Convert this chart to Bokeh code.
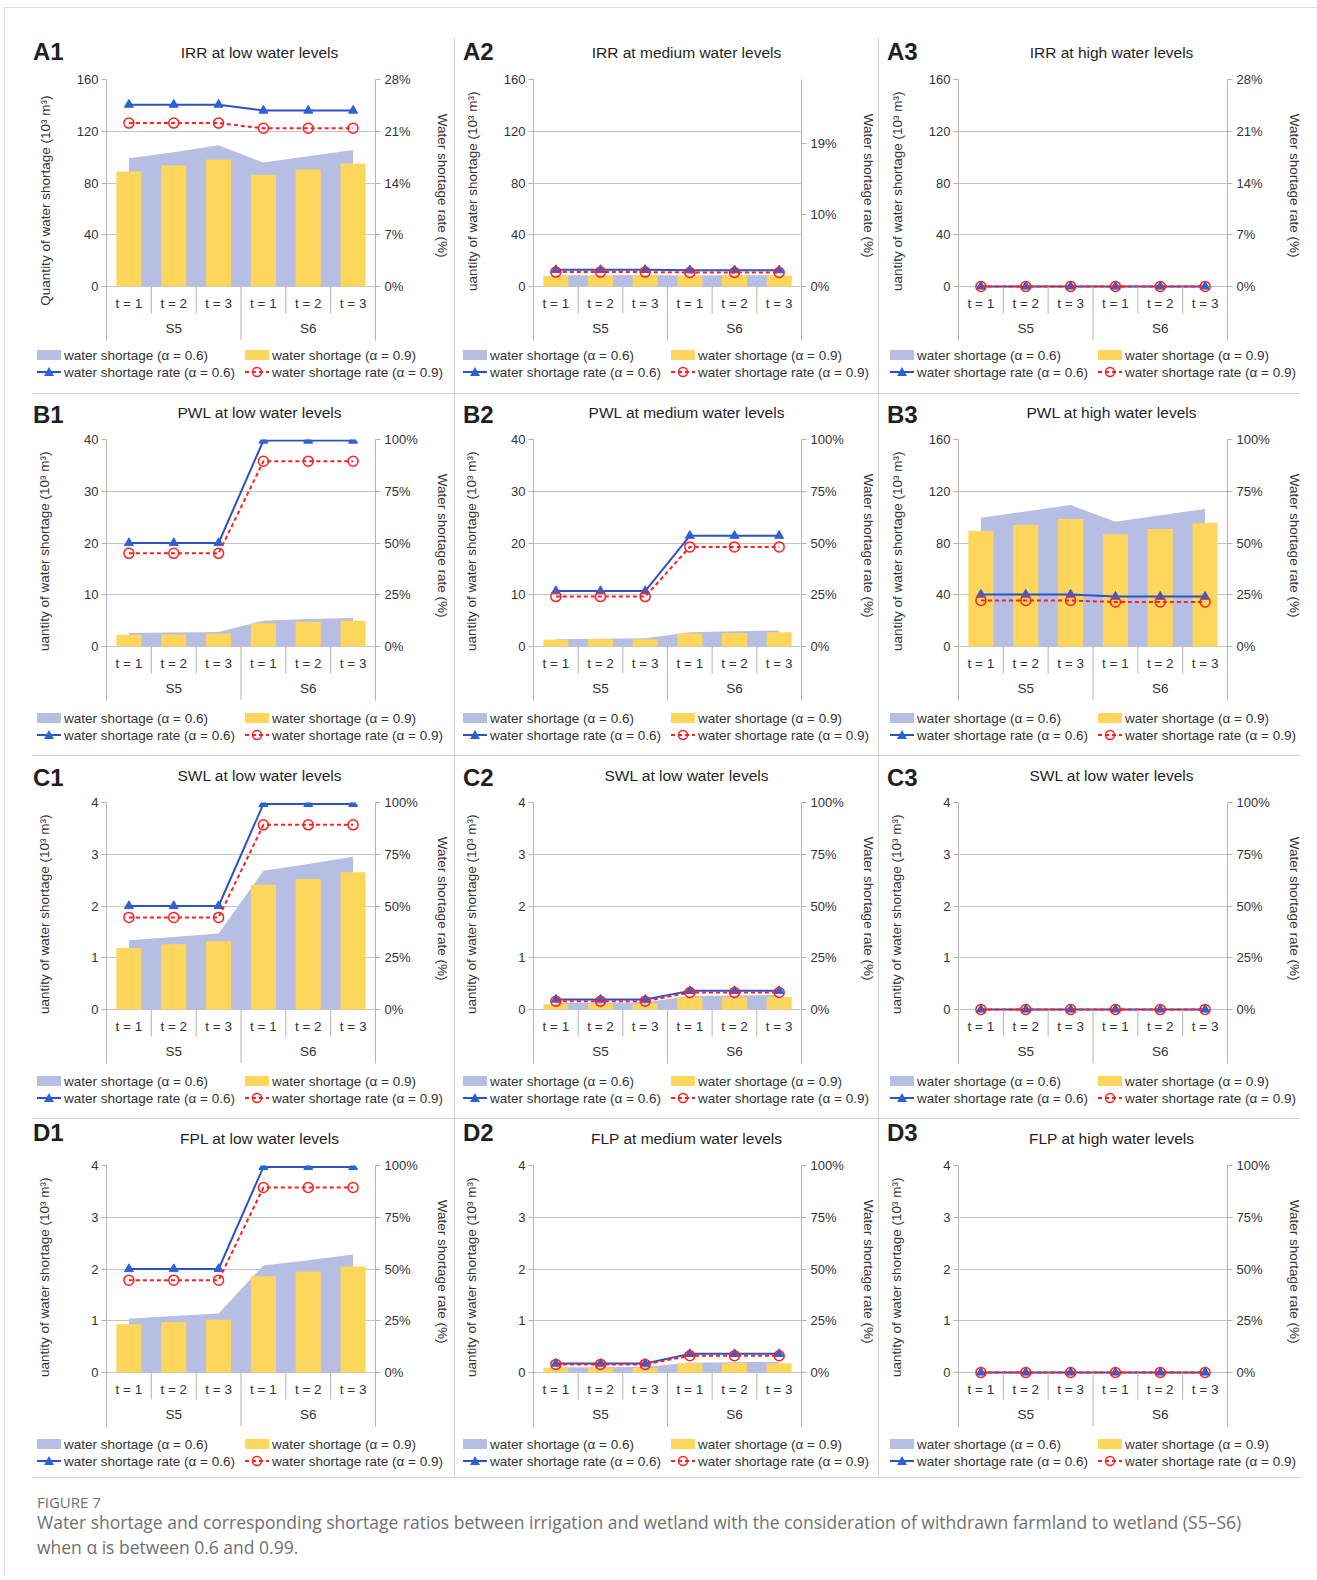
from bokeh.plotting import figure
from bokeh.models import (Range1d, LinearAxis, FixedTicker, PrintfTickFormatter,
                          ColumnDataSource, Div, Spacer)
from bokeh.layouts import row, column
from bokeh.embed import file_html
from bokeh.resources import INLINE
from bokeh.core.properties import value

# ---------------------------------------------------------------- data
groups = ["S5", "S6"]
periods = ["t = 1", "t = 2", "t = 3"]
categories = [(g, t) for g in groups for t in periods]

legend_labels = ["water shortage (α = 0.6)", "water shortage (α = 0.9)",
                 "water shortage rate (α = 0.6)", "water shortage rate (α = 0.9)"]

panel_ids = [["A1", "A2", "A3"], ["B1", "B2", "B3"], ["C1", "C2", "C3"], ["D1", "D2", "D3"]]
panel_titles = [["IRR at low water levels", "IRR at medium water levels", "IRR at high water levels"],
                ["PWL at low water levels", "PWL at medium water levels", "PWL at high water levels"],
                ["SWL at low water levels", "SWL at low water levels", "SWL at low water levels"],
                ["FPL at low water levels", "FLP at medium water levels", "FLP at high water levels"]]
left_title_full = "Quantity of water shortage (10³ m³)"
left_title_cut = "uantity of water shortage (10³ m³)"
right_title = "Water shortage rate (%)"

qty_ticks_160 = [0, 40, 80, 120, 160]
qty_ticks_40 = [0, 10, 20, 30, 40]
qty_ticks_4 = [0, 1, 2, 3, 4]
rate_ticks_28 = [0, 7, 14, 21, 28]
rate_ticks_28_odd = [0, 9.68, 19.36]
rate_ticks_100 = [0, 25, 50, 75, 100]
zeros = [0, 0, 0, 0, 0, 0]

A1_ws06 = [99.2, 103.8, 109.2, 95.8, 100.7, 105.6]
A1_ws09 = [88.9, 93.5, 98.1, 86.3, 90.4, 95.0]
A1_r06 = [24.6, 24.6, 24.6, 23.8, 23.8, 23.8]
A1_r09 = [22.1, 22.1, 22.1, 21.4, 21.4, 21.4]

A2_ws06 = [8.6, 8.7, 8.8, 8.5, 8.6, 8.7]
A2_ws09 = [8.2, 8.4, 8.5, 8.1, 8.3, 8.5]
A2_r06 = [2.25, 2.25, 2.25, 2.2, 2.2, 2.2]
A2_r09 = [1.95, 1.95, 1.95, 1.9, 1.9, 1.9]

B1_ws06 = [2.6, 2.7, 2.8, 5.0, 5.3, 5.5]
B1_ws09 = [2.25, 2.3, 2.5, 4.5, 4.8, 5.0]
B1_r06 = [50, 50, 50, 99.5, 99.5, 99.5]
B1_r09 = [45, 45, 45, 89.5, 89.5, 89.5]

B2_ws06 = [1.4, 1.5, 1.6, 2.75, 2.95, 3.1]
B2_ws09 = [1.3, 1.4, 1.4, 2.5, 2.6, 2.75]
B2_r06 = [26.8, 26.8, 26.8, 53.5, 53.5, 53.5]
B2_r09 = [24.1, 24.1, 24.1, 48.1, 48.1, 48.1]

B3_ws06 = [99.5, 104.4, 109.3, 96.5, 101.4, 106.2]
B3_ws09 = [89.3, 93.9, 98.5, 86.7, 90.8, 95.4]
B3_r06 = [25.1, 25.1, 25.1, 24.1, 24.1, 24.1]
B3_r09 = [22.2, 22.2, 22.2, 21.5, 21.5, 21.5]

C1_ws06 = [1.34, 1.40, 1.47, 2.68, 2.81, 2.95]
C1_ws09 = [1.19, 1.26, 1.32, 2.41, 2.52, 2.65]
C1_r06 = [50, 50, 50, 99.3, 99.3, 99.3]
C1_r09 = [44.5, 44.5, 44.5, 89.2, 89.2, 89.2]

C2_ws06 = [0.13, 0.13, 0.14, 0.26, 0.27, 0.28]
C2_ws09 = [0.10, 0.11, 0.11, 0.23, 0.23, 0.24]
C2_r06 = [4.8, 4.8, 4.8, 9.0, 9.0, 9.0]
C2_r09 = [4.0, 4.0, 4.0, 8.2, 8.2, 8.2]

D1_ws06 = [1.04, 1.09, 1.14, 2.07, 2.17, 2.28]
D1_ws09 = [0.93, 0.97, 1.02, 1.86, 1.95, 2.05]
D1_r06 = [50, 50, 50, 99.3, 99.3, 99.3]
D1_r09 = [44.6, 44.6, 44.6, 89.4, 89.4, 89.4]

D2_ws06 = [0.10, 0.10, 0.11, 0.19, 0.20, 0.21]
D2_ws09 = [0.09, 0.09, 0.09, 0.18, 0.18, 0.18]
D2_r06 = [4.3, 4.3, 4.3, 9.0, 9.0, 9.0]
D2_r09 = [3.9, 3.9, 3.9, 8.1, 8.1, 8.1]

caption_head = "FIGURE 7"
caption_line1 = ("Water shortage and corresponding shortage ratios between irrigation and wetland "
                 "with the consideration of withdrawn farmland to wetland (S5–S6)")
caption_line2 = "when α is between 0.6 and 0.99."

specs = [
    [dict(ws06=A1_ws06, ws09=A1_ws09, r06=A1_r06, r09=A1_r09, qt=qty_ticks_160, rt=rate_ticks_28, rmax=28),
     dict(ws06=A2_ws06, ws09=A2_ws09, r06=A2_r06, r09=A2_r09, qt=qty_ticks_160, rt=rate_ticks_28_odd, rmax=28),
     dict(ws06=zeros, ws09=zeros, r06=zeros, r09=zeros, qt=qty_ticks_160, rt=rate_ticks_28, rmax=28)],
    [dict(ws06=B1_ws06, ws09=B1_ws09, r06=B1_r06, r09=B1_r09, qt=qty_ticks_40, rt=rate_ticks_100, rmax=100),
     dict(ws06=B2_ws06, ws09=B2_ws09, r06=B2_r06, r09=B2_r09, qt=qty_ticks_40, rt=rate_ticks_100, rmax=100),
     dict(ws06=B3_ws06, ws09=B3_ws09, r06=B3_r06, r09=B3_r09, qt=qty_ticks_160, rt=rate_ticks_100, rmax=100)],
    [dict(ws06=C1_ws06, ws09=C1_ws09, r06=C1_r06, r09=C1_r09, qt=qty_ticks_4, rt=rate_ticks_100, rmax=100),
     dict(ws06=C2_ws06, ws09=C2_ws09, r06=C2_r06, r09=C2_r09, qt=qty_ticks_4, rt=rate_ticks_100, rmax=100),
     dict(ws06=zeros, ws09=zeros, r06=zeros, r09=zeros, qt=qty_ticks_4, rt=rate_ticks_100, rmax=100)],
    [dict(ws06=D1_ws06, ws09=D1_ws09, r06=D1_r06, r09=D1_r09, qt=qty_ticks_4, rt=rate_ticks_100, rmax=100),
     dict(ws06=D2_ws06, ws09=D2_ws09, r06=D2_r06, r09=D2_r09, qt=qty_ticks_4, rt=rate_ticks_100, rmax=100),
     dict(ws06=zeros, ws09=zeros, r06=zeros, r09=zeros, qt=qty_ticks_4, rt=rate_ticks_100, rmax=100)],
]

# ---------------------------------------------------------------- style / layout
FONT = "Liberation Sans"
AREA = "#b7bee3"
YELLOW = "#ffd65c"
BLUE = "#2d52c4"
BLUE_M = "#2a62d8"
RED = "#ff1f1f"
GRID = "#c4c4c4"
AXIS = "#b3b3b3"
TICK = "#333333"
TITLE = "#1f1f1f"
SEP = "#d4d4d4"
NBSP = "\u00a0"

COL_W = [454, 423, 438]
FRAME_L = [106, 78, 79]
FRAME_W = 269
ROW_H = [393, 361, 362, 358]
HEAD_H = [62, 32, 32, 32]
FRAME_T = [79, 45, 46, 46]          # from top of the row
PLOT_H = 207
BELOW = 54
FRAME_H = PLOT_H + BELOW
FIG_BOTTOM = 2
FIG_H = [FRAME_T[r] - HEAD_H[r] + FRAME_H + FIG_BOTTOM for r in range(4)]
LEG_H = [ROW_H[r] - HEAD_H[r] - FIG_H[r] for r in range(4)]
LEG_Y1 = [13, 16, 16, 16]
LEG_X = [37, 8, 11]
LEG_COL = 208
LEG_ROW = 17
TITLE_Y = [53, 19, 20, 20]
ID_Y = [52, 21, 22, 14]
ID_X = [33, 8, 8]
TICK_PX = 13.0
HFONT = "'Liberation Sans',Arial,sans-serif"


def label_w(ticks, pct):
    w = 0.0
    for t in ticks:
        s = ("%.0f" % t) if pct else ("%g" % t)
        w = max(w, TICK_PX * (0.556 * len(s) + (0.889 if pct else 0)))
    return w


def header(r, c):
    W, h = COL_W[c], HEAD_H[r]
    tc = FRAME_L[c] + FRAME_W / 2 + 19
    html = (f'<div style="position:relative;width:{W}px;height:{h}px;'
            f'font-family:{HFONT};color:{TITLE};">'
            f'<div style="position:absolute;left:{ID_X[c]}px;top:{ID_Y[r] - 14}px;font-size:24px;'
            f'font-weight:bold;line-height:28px;white-space:nowrap;">{panel_ids[r][c]}</div>'
            f'<div style="position:absolute;left:{tc - 160}px;top:{TITLE_Y[r] - 9}px;width:320px;'
            f'text-align:center;font-size:15.5px;line-height:18px;white-space:nowrap;">'
            f'{panel_titles[r][c]}</div></div>')
    return Div(text=html, width=W, height=h, margin=0)


def swatch(i):
    if i == 0:
        body = f'<rect x="0" y="2" width="24" height="10" fill="{AREA}"/>'
    elif i == 1:
        body = f'<rect x="0" y="2" width="24" height="10" fill="{YELLOW}"/>'
    elif i == 2:
        body = (f'<line x1="0" y1="7" x2="24" y2="7" stroke="{BLUE}" stroke-width="2"/>'
                f'<polygon points="12,2 17,11 7,11" fill="{BLUE_M}"/>')
    else:
        body = (f'<line x1="0" y1="7" x2="24" y2="7" stroke="{RED}" stroke-width="2" '
                f'stroke-dasharray="4 3"/>'
                f'<circle cx="12" cy="7" r="4.5" fill="none" stroke="{RED}" stroke-width="1.5"/>')
    return f'<svg width="24" height="14" style="display:block">{body}</svg>'


def legend_div(r, c):
    W, h = COL_W[c], LEG_H[r]
    parts = [f'<div style="position:relative;width:{W}px;height:{h}px;font-family:{HFONT};'
             f'color:{TICK};font-size:13.5px;">']
    for i, lab in enumerate(legend_labels):
        x = LEG_X[c] + (i % 2) * LEG_COL
        yc = LEG_Y1[r] + (i // 2) * LEG_ROW
        parts.append(f'<div style="position:absolute;left:{x}px;top:{yc - 7}px;">{swatch(i)}</div>')
        parts.append(f'<div style="position:absolute;left:{x + 27}px;top:{yc - 8.5}px;'
                     f'line-height:17px;white-space:nowrap;">{lab}</div>')
    parts.append('</div>')
    return Div(text="".join(parts), width=W, height=h, margin=0)


def make_panel(r, c):
    spec = specs[r][c]
    W, H = COL_W[c], FIG_H[r]
    fl, ft = FRAME_L[c], FRAME_T[r] - HEAD_H[r]
    n = len(categories)
    ymax = spec["qt"][-1]
    rmax = spec["rmax"]
    k = BELOW / PLOT_H
    p = figure(width=W, height=H, output_backend="svg", toolbar_location=None, title=None,
               x_range=Range1d(0, n), y_range=Range1d(-k * ymax, ymax),
               x_axis_location=None, y_axis_location="left",
               min_border_left=fl, min_border_right=W - fl - FRAME_W,
               min_border_top=ft, min_border_bottom=FIG_BOTTOM,
               outline_line_color=None, background_fill_color="white",
               border_fill_color="white", border_fill_alpha=0)
    p.xgrid.visible = False
    p.ygrid.grid_line_color = GRID
    p.ygrid.ticker = FixedTicker(ticks=spec["qt"])

    p.extra_y_ranges = {"rate": Range1d(-k * rmax, rmax)}
    lax = p.yaxis[0]
    lax.ticker = FixedTicker(ticks=spec["qt"])
    rax = LinearAxis(y_range_name="rate", ticker=FixedTicker(ticks=spec["rt"]),
                     formatter=PrintfTickFormatter(format="%.0f%%"))
    p.add_layout(rax, "right")
    for ax in (lax, rax):
        ax.axis_line_color = AXIS
        ax.major_tick_line_color = AXIS
        ax.major_tick_out = 5
        ax.major_tick_in = 0
        ax.minor_tick_line_color = None
        ax.major_label_text_font = FONT
        ax.major_label_text_font_size = "13px"
        ax.major_label_text_color = TICK
        ax.major_label_standoff = 3
        ax.axis_label_text_font = FONT
        ax.axis_label_text_font_size = "13.5px"
        ax.axis_label_text_font_style = "normal"
        ax.axis_label_text_color = TICK
    rax.major_label_standoff = 4

    first = (r == 0 and c == 0)
    lpad = NBSP * (5 if first else 10)
    lax.axis_label = lpad + (left_title_full if first else left_title_cut)
    lax.axis_label_standoff = int(round(43 - label_w(spec["qt"], False)))
    rax.axis_label = right_title + NBSP * 13
    rax.axis_label_standoff = int(round(47 - label_w(spec["rt"], True)))

    xs = [i + 0.5 for i in range(n)]
    src = ColumnDataSource(dict(x=xs, base=[0] * n, ws06=spec["ws06"], ws09=spec["ws09"],
                                r06=spec["r06"], r09=spec["r09"]))
    p.varea(x="x", y1="base", y2="ws06", source=src, fill_color=AREA)
    p.vbar(x="x", top="ws09", width=0.56, source=src, fill_color=YELLOW, line_color=None)
    p.line("x", "r06", source=src, y_range_name="rate", line_color=BLUE, line_width=2)
    p.scatter("x", "r06", source=src, y_range_name="rate", marker="triangle", size=9,
              fill_color=BLUE_M, line_color=BLUE_M)
    p.line("x", "r09", source=src, y_range_name="rate", line_color=RED, line_width=2,
           line_dash="4 3")
    p.scatter("x", "r09", source=src, y_range_name="rate", marker="circle", size=10,
              fill_color=None, line_color=RED, line_width=1.5)

    # category axis drawn inside the extended frame
    sx, sy = [], []
    for i in range(1, n):
        sx.append(i)
        long_sep = categories[i][0] != categories[i - 1][0]
        sy.append(-k * ymax if long_sep else -27 / PLOT_H * ymax)
    p.segment(x0=sx, y0=[0] * len(sx), x1=sx, y1=sy, line_color=AXIS, line_width=1)
    p.text(x=xs, y=[0] * n, text=[cat[1] for cat in categories], y_offset=17,
           text_align="center", text_baseline="middle", text_font=value(FONT),
           text_font_size="13.5px", text_color=TICK)
    gx = []
    for g in groups:
        idx = [i for i, cat in enumerate(categories) if cat[0] == g]
        gx.append(sum(xs[i] for i in idx) / len(idx))
    p.text(x=gx, y=[0] * len(groups), text=groups, y_offset=42,
           text_align="center", text_baseline="middle", text_font=value(FONT),
           text_font_size="13.5px", text_color=TICK)
    return p


def vsep(h, start=0):
    if start:
        st = {"background": f"linear-gradient(to bottom, transparent {start}px, {SEP} {start}px)"}
    else:
        st = {"background-color": SEP}
    return Div(width=1, height=h, margin=0, styles=st)


def hsep():
    return row(Spacer(width=32, height=1),
               Div(width=1268, height=1, margin=0, styles={"background-color": SEP}),
               spacing=0)


rows = []
for r in range(4):
    s = 38 if r == 0 else 0
    hd = [header(r, c) for c in range(3)]
    rows.append(row(hd[0], vsep(HEAD_H[r], s), hd[1], vsep(HEAD_H[r], s), hd[2], spacing=0))
    fg = [make_panel(r, c) for c in range(3)]
    rows.append(row(fg[0], vsep(FIG_H[r]), fg[1], vsep(FIG_H[r]), fg[2], spacing=0))
    lg = [legend_div(r, c) for c in range(3)]
    rows.append(row(lg[0], vsep(LEG_H[r]), lg[1], vsep(LEG_H[r]), lg[2], spacing=0))
    rows.append(hsep())

caption = Div(
    text=('<div style="font-family:\'Open Sans\';color:#707070;padding-left:37px;padding-top:14px;">'
          '<div style="font-size:15px;line-height:21px;">' + caption_head + '</div>'
          '<div style="font-size:17.5px;line-height:24.5px;margin-top:-3px;white-space:nowrap;">'
          + caption_line1 + '<br>' + caption_line2 + '</div></div>'),
    width=1317, height=98, margin=0)
rows.append(caption)

layout = column(*rows, spacing=0,
                styles={"box-shadow": "inset 4px 7px 0 0 #ffffff, inset 5px 8px 0 0 #dcdcdc"})
open("out.html", "w").write(file_html(layout, INLINE))
